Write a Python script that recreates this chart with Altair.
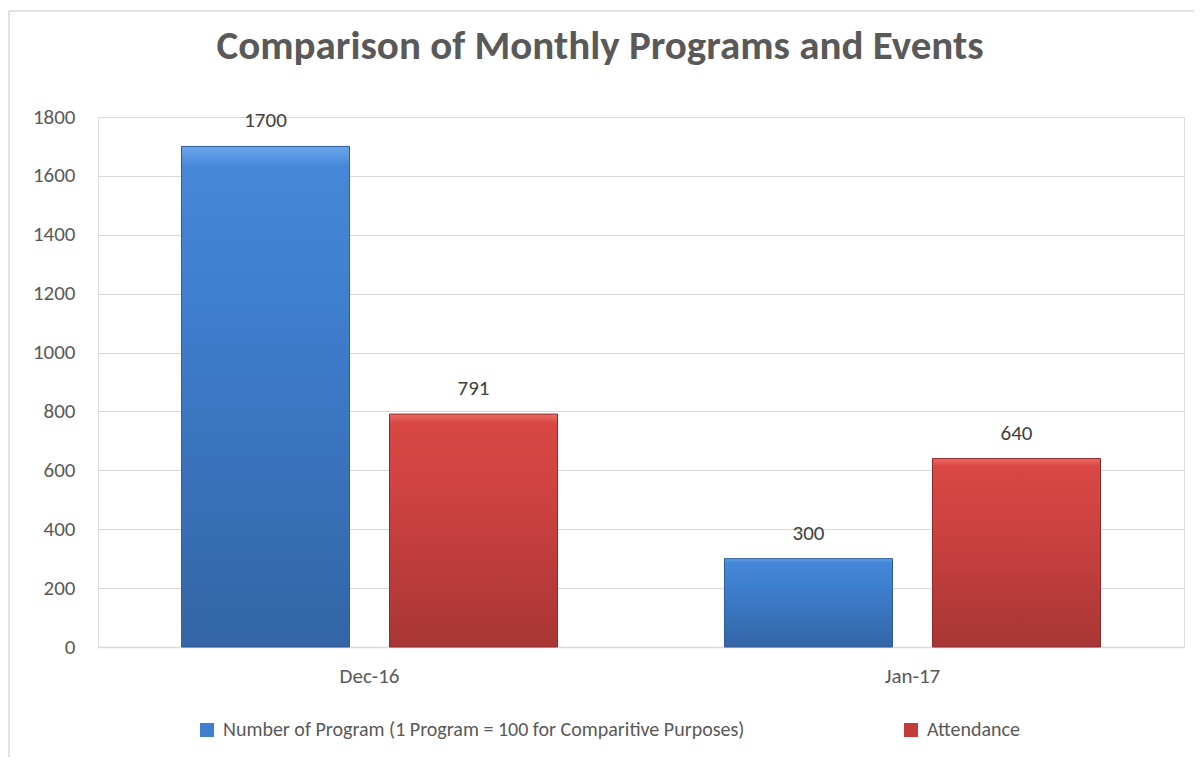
import altair as alt
import pandas as pd

months = ["Dec-16", "Jan-17"]
programs = [1700, 300]
attendance = [791, 640]
series_names = ["Number of Program (1 Program = 100 for Comparitive Purposes)", "Attendance"]
y_ticks = [0, 200, 400, 600, 800, 1000, 1200, 1400, 1600, 1800]
title_text = "Comparison of Monthly Programs and Events"

rows = []
for m, p, a in zip(months, programs, attendance):
    rows.append({"month": m, "series": series_names[0], "value": p})
    rows.append({"month": m, "series": series_names[1], "value": a})
df = pd.DataFrame(rows)

FONT = "Carlito, Lato, sans-serif"
TXT = "#595959"

blue_grad = alt.LinearGradient(
    gradient="linear", x1=0, x2=0, y1=0, y2=1,
    stops=[alt.GradientStop(color="#6aa6ea", offset=0),
           alt.GradientStop(color="#4687d8", offset=0.04),
           alt.GradientStop(color="#3f7fcf", offset=0.3),
           alt.GradientStop(color="#3365a6", offset=1)])
red_grad = alt.LinearGradient(
    gradient="linear", x1=0, x2=0, y1=0, y2=1,
    stops=[alt.GradientStop(color="#ee6a66", offset=0),
           alt.GradientStop(color="#d84744", offset=0.04),
           alt.GradientStop(color="#d04341", offset=0.3),
           alt.GradientStop(color="#a83634", offset=1)])

x_enc = alt.X("month:N", sort=months, title=None,
              scale=alt.Scale(paddingInner=0.3075, paddingOuter=0.1538),
              axis=alt.Axis(labelAngle=0, labelFont=FONT, labelFontSize=21, labelColor=TXT,
                            labelPadding=18, ticks=False, domainColor="#d9d9d9", domainWidth=1.5,
                            grid=False))
xo_enc = alt.XOffset("series:N", sort=series_names,
                     scale=alt.Scale(paddingInner=0.1923, paddingOuter=0))
y_enc = alt.Y("value:Q", title=None,
              scale=alt.Scale(domain=[0, 1800], nice=False),
              axis=alt.Axis(values=y_ticks, format="d", labelFont=FONT, labelFontSize=21,
                            labelColor=TXT, labelPadding=23, ticks=False, domain=False,
                            gridColor="#d9d9d9", gridWidth=1))

base = alt.Chart(df)

legend_bars = base.mark_bar().encode(
    x=x_enc, xOffset=xo_enc, y=y_enc,
    color=alt.Color("series:N", sort=series_names,
                    scale=alt.Scale(domain=series_names, range=["#3f7fcf", "#c43c39"]),
                    legend=alt.Legend(title=None, orient="none", direction="horizontal",
                                      legendX=99, legendY=603, symbolType="square",
                                      symbolSize=196, symbolStrokeWidth=0,
                                      labelFont=FONT, labelFontSize=20, labelColor=TXT,
                                      labelLimit=0, labelOffset=6, columnPadding=156)),
)

blue_bars = base.transform_filter(alt.datum.series == series_names[0]).mark_bar(
    color=blue_grad, stroke="#2f5d98", strokeWidth=1).encode(x=x_enc, xOffset=xo_enc, y=y_enc)
red_bars = base.transform_filter(alt.datum.series == series_names[1]).mark_bar(
    color=red_grad, stroke="#8e2c2a", strokeWidth=1).encode(x=x_enc, xOffset=xo_enc, y=y_enc)

labels = base.mark_text(font=FONT, fontSize=21, color="#404040", baseline="middle", dy=-25).encode(
    x=x_enc, xOffset=xo_enc, y=y_enc, text=alt.Text("value:Q"))

one = alt.Data(values=[{"t": title_text}])
frame_left = alt.Chart(one).mark_rule(stroke="#d9d9d9", strokeWidth=1.5).encode(
    x=alt.value(-89), y=alt.value(-106), y2=alt.value(700))
frame_top = alt.Chart(one).mark_rule(stroke="#d9d9d9", strokeWidth=1.5).encode(
    x=alt.value(-89), x2=alt.value(1200), y=alt.value(-106))

title = alt.Chart(one).mark_text(font=FONT, fontSize=41, fontWeight="bold", color=TXT,
                                 align="center", baseline="middle").encode(
    x=alt.value(502), y=alt.value(-70), text="t:N")

chart = alt.layer(frame_left, frame_top, title, legend_bars, blue_bars, red_bars, labels).properties(
    width=1086, height=530,
    autosize=alt.AutoSizeParams(type="none"),
    padding={"left": 90, "top": 109, "right": 10, "bottom": 110},
).configure_view(stroke=None).configure(background="white")

chart.save("out.html", embed_options={"renderer": "svg", "actions": False})
